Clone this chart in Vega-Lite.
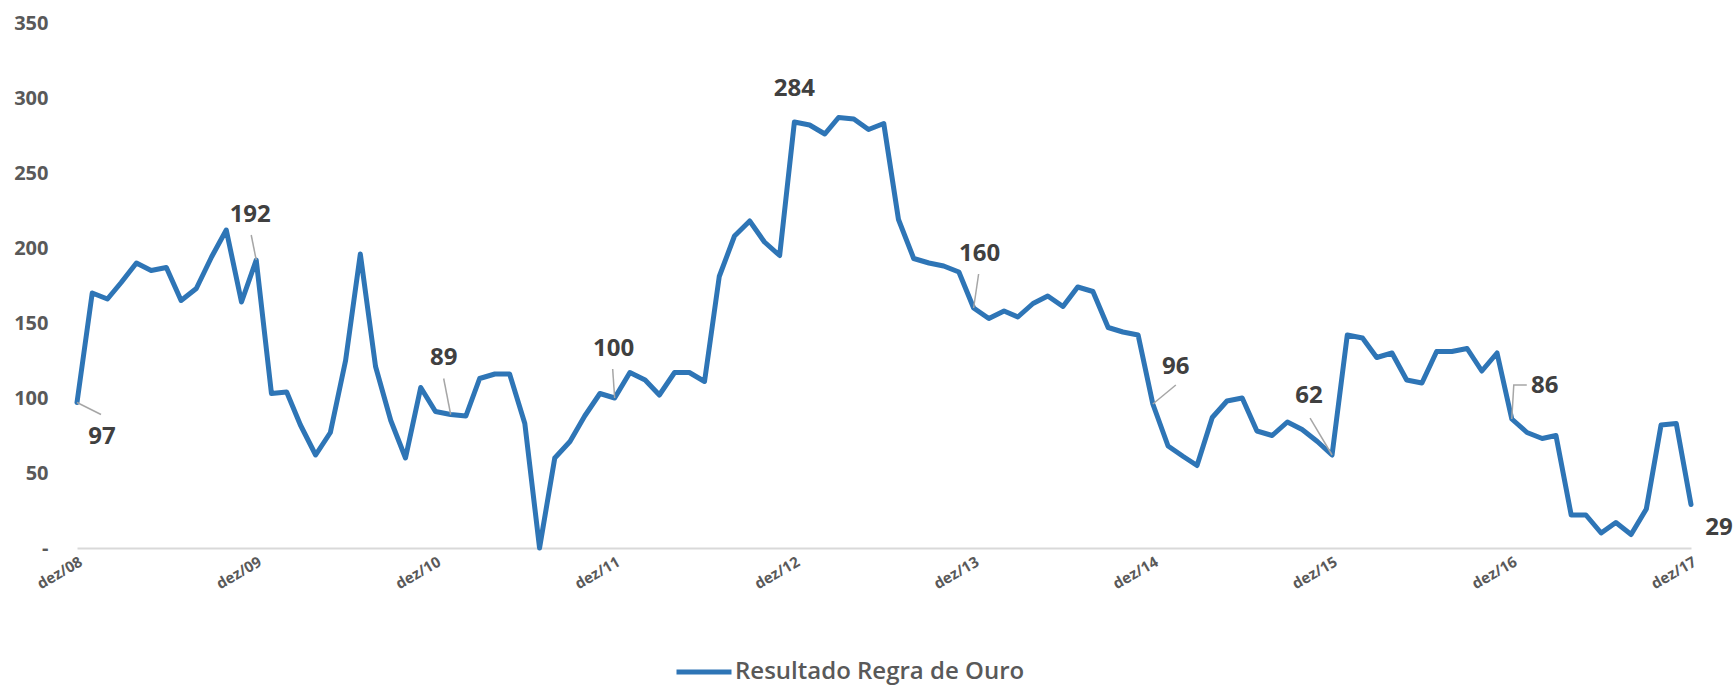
{
  "$schema": "https://vega.github.io/schema/vega-lite/v6.json",
  "width": 1614,
  "height": 525,
  "autosize": {"type": "none"},
  "padding": {"left": 77, "top": 23, "right": 43, "bottom": 138},
  "background": "white",
  "config": {"view": {"stroke": null}, "font": "Open Sans"},
  "data": {"values": [
    {"m": "2008-12-01", "v": 97},
    {"m": "2009-01-01", "v": 170}, {"m": "2009-02-01", "v": 166}, {"m": "2009-03-01", "v": 177}, {"m": "2009-04-01", "v": 190}, {"m": "2009-05-01", "v": 185}, {"m": "2009-06-01", "v": 187}, {"m": "2009-07-01", "v": 165}, {"m": "2009-08-01", "v": 173}, {"m": "2009-09-01", "v": 194}, {"m": "2009-10-01", "v": 212}, {"m": "2009-11-01", "v": 164}, {"m": "2009-12-01", "v": 192},
    {"m": "2010-01-01", "v": 103}, {"m": "2010-02-01", "v": 104}, {"m": "2010-03-01", "v": 82}, {"m": "2010-04-01", "v": 62}, {"m": "2010-05-01", "v": 77}, {"m": "2010-06-01", "v": 125}, {"m": "2010-07-01", "v": 196}, {"m": "2010-08-01", "v": 121}, {"m": "2010-09-01", "v": 85}, {"m": "2010-10-01", "v": 60}, {"m": "2010-11-01", "v": 107}, {"m": "2010-12-01", "v": 91},
    {"m": "2011-01-01", "v": 89}, {"m": "2011-02-01", "v": 88}, {"m": "2011-03-01", "v": 113}, {"m": "2011-04-01", "v": 116}, {"m": "2011-05-01", "v": 116}, {"m": "2011-06-01", "v": 83}, {"m": "2011-07-01", "v": 0}, {"m": "2011-08-01", "v": 60}, {"m": "2011-09-01", "v": 71}, {"m": "2011-10-01", "v": 88}, {"m": "2011-11-01", "v": 103}, {"m": "2011-12-01", "v": 100},
    {"m": "2012-01-01", "v": 117}, {"m": "2012-02-01", "v": 112}, {"m": "2012-03-01", "v": 102}, {"m": "2012-04-01", "v": 117}, {"m": "2012-05-01", "v": 117}, {"m": "2012-06-01", "v": 111}, {"m": "2012-07-01", "v": 181}, {"m": "2012-08-01", "v": 208}, {"m": "2012-09-01", "v": 218}, {"m": "2012-10-01", "v": 204}, {"m": "2012-11-01", "v": 195}, {"m": "2012-12-01", "v": 284},
    {"m": "2013-01-01", "v": 282}, {"m": "2013-02-01", "v": 276}, {"m": "2013-03-01", "v": 287}, {"m": "2013-04-01", "v": 286}, {"m": "2013-05-01", "v": 279}, {"m": "2013-06-01", "v": 283}, {"m": "2013-07-01", "v": 219}, {"m": "2013-08-01", "v": 193}, {"m": "2013-09-01", "v": 190}, {"m": "2013-10-01", "v": 188}, {"m": "2013-11-01", "v": 184}, {"m": "2013-12-01", "v": 160},
    {"m": "2014-01-01", "v": 153}, {"m": "2014-02-01", "v": 158}, {"m": "2014-03-01", "v": 154}, {"m": "2014-04-01", "v": 163}, {"m": "2014-05-01", "v": 168}, {"m": "2014-06-01", "v": 161}, {"m": "2014-07-01", "v": 174}, {"m": "2014-08-01", "v": 171}, {"m": "2014-09-01", "v": 147}, {"m": "2014-10-01", "v": 144}, {"m": "2014-11-01", "v": 142}, {"m": "2014-12-01", "v": 96},
    {"m": "2015-01-01", "v": 68}, {"m": "2015-02-01", "v": 61}, {"m": "2015-03-01", "v": 55}, {"m": "2015-04-01", "v": 87}, {"m": "2015-05-01", "v": 98}, {"m": "2015-06-01", "v": 100}, {"m": "2015-07-01", "v": 78}, {"m": "2015-08-01", "v": 75}, {"m": "2015-09-01", "v": 84}, {"m": "2015-10-01", "v": 79}, {"m": "2015-11-01", "v": 71}, {"m": "2015-12-01", "v": 62},
    {"m": "2016-01-01", "v": 142}, {"m": "2016-02-01", "v": 140}, {"m": "2016-03-01", "v": 127}, {"m": "2016-04-01", "v": 130}, {"m": "2016-05-01", "v": 112}, {"m": "2016-06-01", "v": 110}, {"m": "2016-07-01", "v": 131}, {"m": "2016-08-01", "v": 131}, {"m": "2016-09-01", "v": 133}, {"m": "2016-10-01", "v": 118}, {"m": "2016-11-01", "v": 130}, {"m": "2016-12-01", "v": 86},
    {"m": "2017-01-01", "v": 77}, {"m": "2017-02-01", "v": 73}, {"m": "2017-03-01", "v": 75}, {"m": "2017-04-01", "v": 22}, {"m": "2017-05-01", "v": 22}, {"m": "2017-06-01", "v": 10}, {"m": "2017-07-01", "v": 17}, {"m": "2017-08-01", "v": 9}, {"m": "2017-09-01", "v": 26}, {"m": "2017-10-01", "v": 82}, {"m": "2017-11-01", "v": 83}, {"m": "2017-12-01", "v": 29}
  ]},
  "encoding": {
    "x": {
      "field": "m", "type": "temporal", "title": null,
      "scale": {"type": "utc", "domain": [{"year": 2008, "month": 12, "date": 1, "utc": true}, {"year": 2017, "month": 12, "date": 1, "utc": true}]},
      "axis": {
        "values": [
          {"year": 2008, "month": 12, "date": 1, "utc": true}, {"year": 2009, "month": 12, "date": 1, "utc": true},
          {"year": 2010, "month": 12, "date": 1, "utc": true}, {"year": 2011, "month": 12, "date": 1, "utc": true},
          {"year": 2012, "month": 12, "date": 1, "utc": true}, {"year": 2013, "month": 12, "date": 1, "utc": true},
          {"year": 2014, "month": 12, "date": 1, "utc": true}, {"year": 2015, "month": 12, "date": 1, "utc": true},
          {"year": 2016, "month": 12, "date": 1, "utc": true}, {"year": 2017, "month": 12, "date": 1, "utc": true}
        ],
        "labelExpr": "'dez/' + utcFormat(datum.value, '%y')",
        "labelAngle": -30, "labelFontSize": 15, "labelFontWeight": "bold", "labelColor": "#595959",
        "labelPadding": 6, "labelFlush": false, "labelOverlap": false,
        "ticks": false, "grid": false, "domainColor": "#d9d9d9", "domainWidth": 2
      }
    },
    "y": {
      "field": "v", "type": "quantitative", "title": null,
      "scale": {"domain": [0, 350], "nice": false, "zero": true},
      "axis": {
        "values": [0, 50, 100, 150, 200, 250, 300, 350],
        "labelExpr": "datum.value == 0 ? '-' : datum.label",
        "labelFontSize": 20, "labelFontWeight": "bold", "labelColor": "#595959",
        "labelPadding": 29, "domain": false, "ticks": false, "grid": false
      }
    }
  },
  "layer": [
    {
      "mark": {"type": "line", "strokeWidth": 5, "strokeJoin": "round", "strokeCap": "round"},
      "encoding": {
        "color": {
          "datum": "Resultado Regra de Ouro", "type": "nominal",
          "scale": {"range": ["#2E75B6"]},
          "legend": {
            "title": null, "orient": "none", "legendX": 597, "legendY": 619, "padding": 0,
            "symbolType": "stroke", "symbolSize": 3025, "symbolStrokeWidth": 5, "symbolStrokeColor": "#2E75B6",
            "labelFontSize": 24, "labelFontWeight": 600, "labelColor": "#595959", "labelFont": "Open Sans", "labelOffset": 1, "labelLimit": 0
          }
        }
      }
    },
    {"transform": [{"filter": "utcyear(datum.m) == 2008"}], "mark": {"type": "point", "shape": "M0,0L0.8,0.4", "size": 3600, "filled": false, "color": "#a6a6a6", "strokeWidth": 1.5, "opacity": 1}},
    {"transform": [{"filter": "utcyear(datum.m) == 2009 && utcmonth(datum.m) == 11"}], "mark": {"type": "point", "shape": "M0,0L-0.167,-0.833", "size": 3600, "filled": false, "color": "#a6a6a6", "strokeWidth": 1.5, "opacity": 1}},
    {"transform": [{"filter": "utcyear(datum.m) == 2011 && utcmonth(datum.m) == 0"}], "mark": {"type": "point", "shape": "M0,0L-0.233,-1.2", "size": 3600, "filled": false, "color": "#a6a6a6", "strokeWidth": 1.5, "opacity": 1}},
    {"transform": [{"filter": "utcyear(datum.m) == 2011 && utcmonth(datum.m) == 11"}], "mark": {"type": "point", "shape": "M0,0L-0.067,-0.967", "size": 3600, "filled": false, "color": "#a6a6a6", "strokeWidth": 1.5, "opacity": 1}},
    {"transform": [{"filter": "utcyear(datum.m) == 2013 && utcmonth(datum.m) == 11"}], "mark": {"type": "point", "shape": "M0,0L0.167,-1.133", "size": 3600, "filled": false, "color": "#a6a6a6", "strokeWidth": 1.5, "opacity": 1}},
    {"transform": [{"filter": "utcyear(datum.m) == 2014 && utcmonth(datum.m) == 11"}], "mark": {"type": "point", "shape": "M0,0L0.767,-0.633", "size": 3600, "filled": false, "color": "#a6a6a6", "strokeWidth": 1.5, "opacity": 1}},
    {"transform": [{"filter": "utcyear(datum.m) == 2015 && utcmonth(datum.m) == 11"}], "mark": {"type": "point", "shape": "M0,0L-0.733,-1.233", "size": 3600, "filled": false, "color": "#a6a6a6", "strokeWidth": 1.5, "opacity": 1}},
    {"transform": [{"filter": "utcyear(datum.m) == 2016 && utcmonth(datum.m) == 11"}], "mark": {"type": "point", "shape": "M0,0L0.067,-1.133L0.5,-1.133", "size": 3600, "filled": false, "color": "#a6a6a6", "strokeWidth": 1.5, "opacity": 1}},
    {"transform": [{"filter": "utcyear(datum.m) == 2008"}], "mark": {"type": "text", "dx": 25, "dy": 34, "fontSize": 24, "fontWeight": "bold", "color": "#404040"}, "encoding": {"text": {"field": "v"}}},
    {"transform": [{"filter": "utcyear(datum.m) == 2009 && utcmonth(datum.m) == 11"}], "mark": {"type": "text", "dx": -6, "dy": -45, "fontSize": 24, "fontWeight": "bold", "color": "#404040"}, "encoding": {"text": {"field": "v"}}},
    {"transform": [{"filter": "utcyear(datum.m) == 2011 && utcmonth(datum.m) == 0"}], "mark": {"type": "text", "dx": -7, "dy": -57, "fontSize": 24, "fontWeight": "bold", "color": "#404040"}, "encoding": {"text": {"field": "v"}}},
    {"transform": [{"filter": "utcyear(datum.m) == 2011 && utcmonth(datum.m) == 11"}], "mark": {"type": "text", "dx": -1, "dy": -49, "fontSize": 24, "fontWeight": "bold", "color": "#404040"}, "encoding": {"text": {"field": "v"}}},
    {"transform": [{"filter": "utcyear(datum.m) == 2012 && utcmonth(datum.m) == 11"}], "mark": {"type": "text", "dx": 0, "dy": -33, "fontSize": 24, "fontWeight": "bold", "color": "#404040"}, "encoding": {"text": {"field": "v"}}},
    {"transform": [{"filter": "utcyear(datum.m) == 2013 && utcmonth(datum.m) == 11"}], "mark": {"type": "text", "dx": 6, "dy": -54, "fontSize": 24, "fontWeight": "bold", "color": "#404040"}, "encoding": {"text": {"field": "v"}}},
    {"transform": [{"filter": "utcyear(datum.m) == 2014 && utcmonth(datum.m) == 11"}], "mark": {"type": "text", "dx": 23, "dy": -37, "fontSize": 24, "fontWeight": "bold", "color": "#404040"}, "encoding": {"text": {"field": "v"}}},
    {"transform": [{"filter": "utcyear(datum.m) == 2015 && utcmonth(datum.m) == 11"}], "mark": {"type": "text", "dx": -23, "dy": -59, "fontSize": 24, "fontWeight": "bold", "color": "#404040"}, "encoding": {"text": {"field": "v"}}},
    {"transform": [{"filter": "utcyear(datum.m) == 2016 && utcmonth(datum.m) == 11"}], "mark": {"type": "text", "dx": 33, "dy": -33, "fontSize": 24, "fontWeight": "bold", "color": "#404040"}, "encoding": {"text": {"field": "v"}}},
    {"transform": [{"filter": "utcyear(datum.m) == 2017 && utcmonth(datum.m) == 11"}], "mark": {"type": "text", "dx": 28, "dy": 23, "fontSize": 24, "fontWeight": "bold", "color": "#404040"}, "encoding": {"text": {"field": "v"}}}
  ]
}
